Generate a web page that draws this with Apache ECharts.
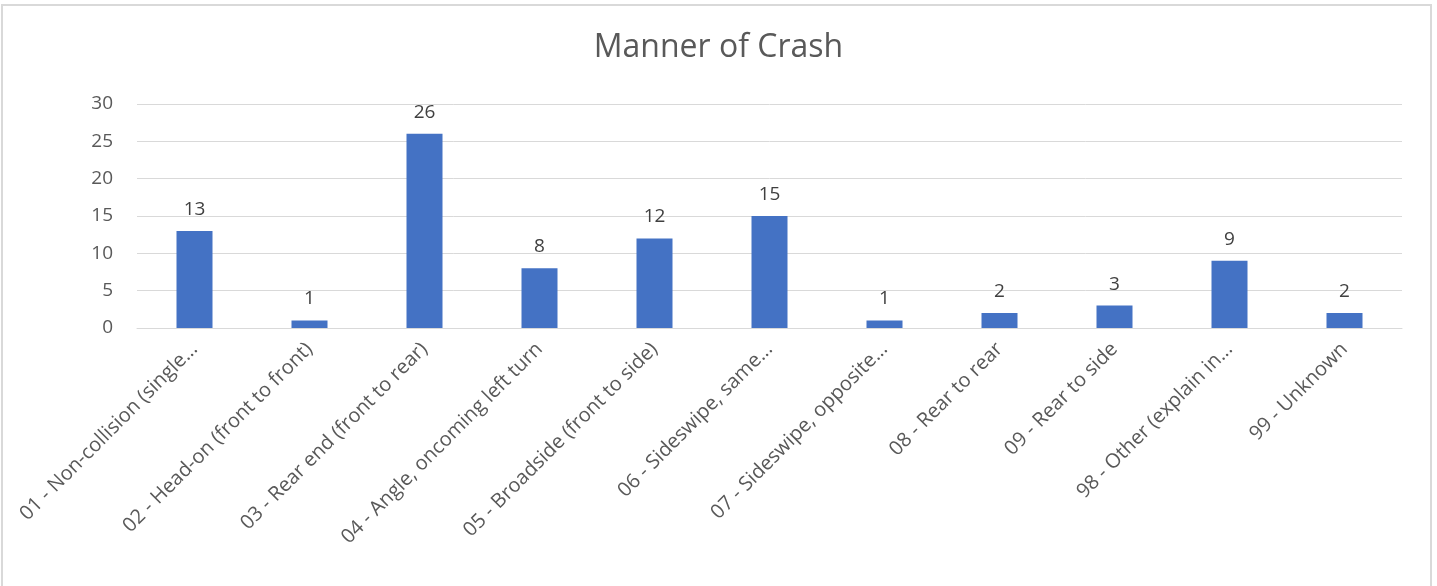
<!DOCTYPE html>
<html>
<head>
<meta charset="utf-8">
<script src="https://cdn.jsdelivr.net/npm/echarts@6/dist/echarts.min.js"></script>
<style>
  html, body { margin: 0; padding: 0; background: #fff; }
  #frame { position: absolute; left: 1px; top: 4px; width: 1431px; height: 600px; border: 2px solid #d9d9d9; box-sizing: border-box; }
  #chart { position: absolute; left: 0; top: 0; width: 1437px; height: 586px; }
</style>
</head>
<body>
<div id="frame"></div>
<div id="chart"></div>
<script>
const categories = [
  "01 - Non-collision (single...",
  "02 - Head-on (front to front)",
  "03 - Rear end (front to rear)",
  "04 - Angle, oncoming left turn",
  "05 - Broadside (front to side)",
  "06 - Sideswipe, same...",
  "07 - Sideswipe, opposite...",
  "08 - Rear to rear",
  "09 - Rear to side",
  "98 - Other (explain in...",
  "99 - Unknown"
];
const counts = [13, 1, 26, 8, 12, 15, 1, 2, 3, 9, 2];
const yTicks = { min: 0, max: 30, interval: 5 };

const font = "'Open Sans', 'Noto Sans', sans-serif";
const chart = echarts.init(document.getElementById("chart"));
chart.setOption({
  animation: false,
  title: {
    text: "Manner of Crash",
    left: "center",
    top: 27,
    textStyle: { fontFamily: font, fontSize: 32, fontWeight: "normal", color: "#595959" }
  },
  grid: { left: 137, right: 35, top: 104, bottom: 258 },
  xAxis: {
    type: "category",
    data: categories,
    axisLine: { lineStyle: { color: "#d9d9d9", width: 1 } },
    axisTick: { show: false },
    axisLabel: {
      interval: 0,
      rotate: 45,
      margin: 18,
      fontFamily: font,
      fontSize: 20,
      color: "#595959"
    }
  },
  yAxis: {
    type: "value",
    min: yTicks.min,
    max: yTicks.max,
    interval: yTicks.interval,
    axisLine: { show: false },
    axisTick: { show: false },
    splitLine: { lineStyle: { color: "#d9d9d9", width: 1 } },
    axisLabel: { margin: 24, fontFamily: font, fontSize: 19, color: "#595959" }
  },
  series: [{
    type: "bar",
    data: counts,
    barWidth: 36,
    itemStyle: { color: "#4472C4" },
    label: {
      show: true,
      position: "top",
      distance: 12,
      fontFamily: font,
      fontSize: 19,
      color: "#404040"
    }
  }]
});
</script>
</body>
</html>
